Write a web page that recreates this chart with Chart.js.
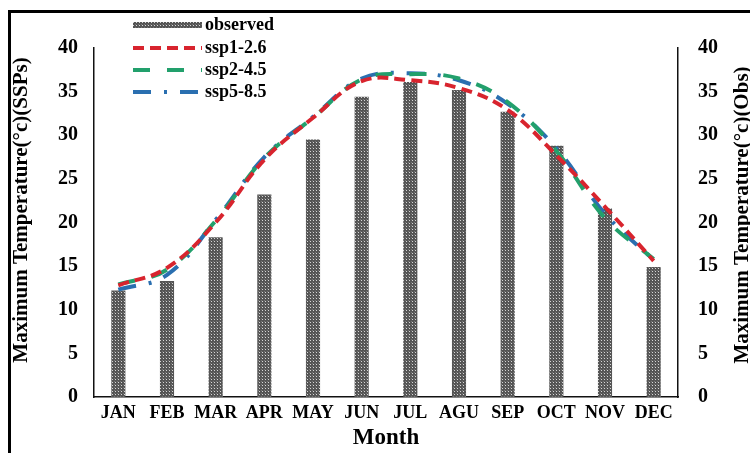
<!DOCTYPE html>
<html>
<head>
<meta charset="utf-8">
<title>Maximum Temperature</title>
<script src="https://cdn.jsdelivr.net/npm/chart.js@4.4.0/dist/chart.umd.min.js"></script>
<style>
    html, body {
        margin: 0;
        padding: 0;
        background: #fff;
        overflow: hidden;
    }

    #wrap {
        position: relative;
        width: 750px;
        height: 453px;
    }

    #frame {
        position: absolute;
        left: 8px;
        top: 10px;
        width: 800px;
        height: 500px;
        border: 3px solid #000;
        box-sizing: border-box;
    }

    #tempChart {
        position: absolute;
        left: 0;
        top: 0;
    }
</style>
</head>
<body>
<div id="wrap">
    <div id="frame"></div>
    <canvas id="tempChart" width="750" height="453"></canvas>
</div>

<script>
/* ==========================================
   DATA
========================================== */

const months = ["JAN", "FEB", "MAR", "APR", "MAY", "JUN", "JUL", "AGU", "SEP", "OCT", "NOV", "DEC"];

const observed = [12.2, 13.3, 18.3, 23.2, 29.5, 34.4, 36.1, 35.2, 32.7, 28.8, 21.6, 14.9];
const ssp126   = [12.8, 14.8, 20.0, 27.2, 32.0, 36.2, 36.3, 35.4, 32.9, 27.7, 21.8, 15.6];
const ssp245   = [12.9, 14.6, 20.2, 27.4, 32.0, 36.4, 37.0, 36.5, 33.8, 28.2, 20.5, 15.8];
const ssp585   = [12.3, 14.0, 20.3, 27.5, 32.1, 36.5, 37.1, 36.3, 33.6, 28.5, 21.0, 15.7];

const yTicks = [0, 5, 10, 15, 20, 25, 30, 35, 40];

const seriesNames = ["observed", "ssp1-2.6", "ssp2-4.5", "ssp5-8.5"];

/* ==========================================
   STYLE
========================================== */

const SERIF = "'Liberation Serif', 'Times New Roman', serif";

function makeBarPattern() {
    const tile = document.createElement("canvas");
    tile.width = 3;
    tile.height = 3;
    const t = tile.getContext("2d");
    t.fillStyle = "#555555";
    t.fillRect(0, 0, 3, 3);
    t.fillStyle = "#d6d6d6";
    t.fillRect(1, 1, 1, 1);
    t.fillStyle = "#777777";
    t.fillRect(0, 0, 1, 1);
    return t.createPattern(tile, "repeat");
}

/* ==========================================
   TITLES + LEGEND (drawn on top)
========================================== */

const overlayPlugin = {
    id: "overlay",
    afterDraw(chart) {
        const ctx = chart.ctx;
        ctx.save();

        // rotated axis titles, both read bottom to top
        ctx.fillStyle = "#000";
        ctx.font = "bold 21px " + SERIF;
        ctx.textAlign = "center";
        ctx.textBaseline = "middle";

        ctx.save();
        ctx.translate(22, 210);
        ctx.rotate(-Math.PI / 2);
        ctx.fillText("Maximum Temperature(°c)(SSPs)", 0, 0);
        ctx.restore();

        ctx.save();
        ctx.translate(743, 215);
        ctx.rotate(-Math.PI / 2);
        ctx.fillText("Maximum Temperature(°c)(Obs)", 0, 0);
        ctx.restore();

        // legend
        const rows = [25, 48, 70, 92];
        const x0 = 133, x1 = 202;

        chart.data.datasets.forEach((ds, i) => {
            const y = rows[i];
            if (ds.type === "bar") {
                ctx.fillStyle = ds.backgroundColor;
                ctx.fillRect(x0, y - 3, x1 - x0, 6);
            } else {
                ctx.strokeStyle = ds.borderColor;
                ctx.lineWidth = ds.borderWidth;
                ctx.setLineDash(ds.borderDash || []);
                ctx.beginPath();
                ctx.moveTo(x0, y);
                ctx.lineTo(x1, y);
                ctx.stroke();
                ctx.setLineDash([]);
            }
            ctx.fillStyle = "#000";
            ctx.font = "bold 18px " + SERIF;
            ctx.textAlign = "left";
            ctx.textBaseline = "middle";
            ctx.fillText(ds.label, 205, y);
        });

        ctx.restore();
    }
};

/* ==========================================
   CHART
========================================== */

function initializeChart() {

    const canvas = document.getElementById("tempChart");
    const pattern = makeBarPattern();

    const yAxis = (position, padding, width) => ({
        type: "linear",
        position: position,
        min: 0,
        max: 40,
        afterBuildTicks: scale => {
            scale.ticks = yTicks.map(v => ({ value: v }));
        },
        afterFit: scale => {
            scale.width = width;
        },
        grid: { display: false, drawTicks: false },
        border: { display: true, color: "#111", width: 1.5 },
        ticks: {
            color: "#000",
            padding: padding,
            font: { family: SERIF, size: 20, weight: "bold" }
        },
        title: { display: false }
    });

    new Chart(canvas, {
        data: {
            labels: months,
            datasets: [
                {
                    type: "bar",
                    label: seriesNames[0],
                    data: observed,
                    yAxisID: "y1",
                    backgroundColor: pattern,
                    barPercentage: 0.29,
                    categoryPercentage: 1,
                    order: 2
                },
                {
                    type: "line",
                    label: seriesNames[1],
                    data: ssp126,
                    yAxisID: "y",
                    borderColor: "#d8242e",
                    borderWidth: 4,
                    borderDash: [11, 6],
                    pointRadius: 0,
                    tension: 0.4,
                    fill: false,
                    order: 1
                },
                {
                    type: "line",
                    label: seriesNames[2],
                    data: ssp245,
                    yAxisID: "y",
                    borderColor: "#22a06c",
                    borderWidth: 4,
                    borderDash: [17, 17],
                    pointRadius: 0,
                    tension: 0.4,
                    fill: false,
                    order: 1
                },
                {
                    type: "line",
                    label: seriesNames[3],
                    data: ssp585,
                    yAxisID: "y",
                    borderColor: "#2a6fb0",
                    borderWidth: 4,
                    borderDash: [18, 13, 3, 13],
                    pointRadius: 0,
                    tension: 0.4,
                    fill: false,
                    order: 1
                }
            ]
        },

        options: {
            responsive: false,
            animation: false,

            layout: {
                padding: { top: 48, left: 10, right: 0, bottom: 0 }
            },

            plugins: {
                legend: { display: false },
                tooltip: { enabled: false }
            },

            scales: {
                x: {
                    type: "category",
                    offset: true,
                    afterFit: scale => {
                        scale.height = 56;
                    },
                    grid: { display: false, drawTicks: false },
                    border: { display: true, color: "#111", width: 1.5 },
                    ticks: {
                        color: "#000",
                        padding: 6,
                        maxRotation: 0,
                        autoSkip: false,
                        font: { family: SERIF, size: 18, weight: "bold" }
                    },
                    title: {
                        display: true,
                        text: "Month",
                        color: "#000",
                        padding: { top: 0, bottom: 1 },
                        font: { family: SERIF, size: 23, weight: "bold" }
                    }
                },
                y: yAxis("left", 16, 84),
                y1: yAxis("right", 20, 72)
            }
        },

        plugins: [overlayPlugin]
    });

}

document.addEventListener("DOMContentLoaded", () => {
    initializeChart();
});
</script>
</body>
</html>
